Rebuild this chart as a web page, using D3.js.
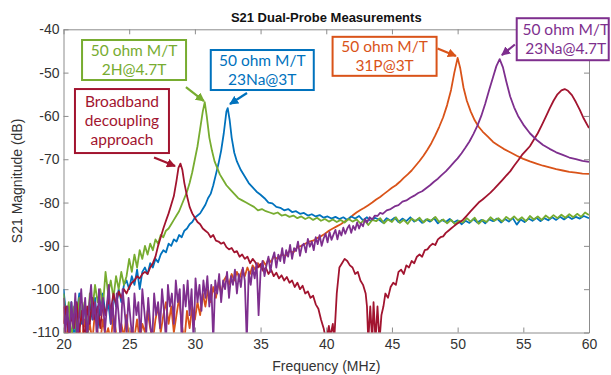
<!DOCTYPE html>
<html>
<head>
<meta charset="utf-8">
<script src="https://cdn.jsdelivr.net/npm/d3@7"></script>
<style>
  body { margin: 0; background: #fff; }
  svg { display: block; }
  .tick text { font-family: "Liberation Sans", Arial, sans-serif; font-size: 14px; fill: #333; }
</style>
</head>
<body>
<div id="chart"></div>
<script>
// S21 traces, [frequency MHz, magnitude dB]
const blueNa3T = [[20,-100],[20.2,-106],[20.4,-109],[20.6,-103],[20.8,-112],[21,-106],[21.2,-101],[21.4,-108],[21.6,-104],[21.8,-110],
  [22,-103],[22.2,-107],[22.4,-102],[22.6,-109],[22.8,-104],[23,-101],[23.2,-106],[23.4,-103],[23.6,-108],[23.8,-101],
  [24,-104],[24.2,-100],[24.4,-103],[24.6,-99],[24.8,-98],[25,-100],[25.2,-97],[25.4,-99],[25.6,-95.5],[25.8,-100],
  [26,-96],[26.2,-95],[26.4,-96.5],[26.6,-94],[26.8,-95],[27,-93],[27.2,-93.8],[27.4,-92],[27.6,-91],[27.8,-91.5],
  [28,-89.5],[28.2,-90],[28.4,-88.5],[28.6,-89],[28.8,-87.5],[29,-88],[29.2,-86.5],[29.4,-86],[29.6,-85],[29.8,-84.5],
  [30,-83.5],[30.2,-83],[30.4,-82.5],[30.6,-81.5],[30.8,-80.5],[31,-79],[31.2,-78],[31.4,-76],[31.6,-73.5],[31.8,-71],
  [32,-68],[32.2,-64],[32.4,-59],[32.5,-58.2],[32.65,-61],[32.8,-65],[33,-68.5],[33.2,-70.5],[33.5,-72.5],[33.8,-74],
  [34.1,-75.5],[34.4,-76.5],[34.7,-77.5],[35,-78.2],[35.3,-79],[35.6,-80],[35.9,-80.2],[36.2,-81],[36.5,-81.2],[36.8,-81.8],
  [37.1,-81.5],[37.4,-82.2],[37.7,-82],[38,-82.6],[38.3,-82.4],[38.6,-83],[38.9,-82.7],[39.2,-83.2],[39.5,-82.9],[39.8,-83.5],
  [40.1,-83.2],[40.4,-83.7],[40.7,-83.3],[41,-83.8],[41.3,-83.4],[41.6,-84],[41.9,-83.2],[42.2,-83.7],[42.5,-83.1],[42.8,-84.1],
  [43.1,-83.4],[43.4,-84.3],[43.7,-83.5],[44,-83.9],[44.3,-84.6],[44.6,-83.6],[44.9,-84.2],[45.2,-83.5],[45.5,-84.5],[45.8,-83.7],
  [46.1,-84.3],[46.4,-83.4],[46.7,-84.4],[47,-83.8],[47.3,-84.7],[47.6,-83.9],[47.9,-84.4],[48.2,-83.6],[48.5,-84.8],[48.8,-84],
  [49.1,-84.5],[49.4,-83.8],[49.7,-84.6],[50,-84.1],[50.3,-85],[50.6,-84.2],[50.9,-84.7],[51.2,-83.8],[51.5,-84.6],[51.8,-84],
  [52.1,-84.8],[52.4,-83.9],[52.7,-84.3],[53,-83.7],[53.3,-84.6],[53.6,-83.8],[53.9,-84.4],[54.2,-83.6],[54.5,-85.1],[54.8,-83.9],
  [55.1,-84.5],[55.4,-83.7],[55.7,-84.2],[56,-83.5],[56.3,-84.3],[56.6,-83.6],[56.9,-84.1],[57.2,-83.4],[57.5,-84],[57.8,-83.3],
  [58.1,-83.9],[58.4,-83.2],[58.7,-83.8],[59,-83.3],[59.3,-83.7],[59.6,-83.1],[60,-83.6]];

const green2H = [[20,-101],[20.2,-108],[20.4,-103],[20.6,-112],[20.8,-104],[21,-110],[21.2,-102],[21.4,-107],[21.6,-103],[21.8,-111],
  [22,-101],[22.2,-105],[22.4,-99],[22.6,-103],[22.8,-100],[23,-104],[23.2,-96],[23.4,-101],[23.6,-98],[23.8,-102],
  [24,-97],[24.2,-100],[24.4,-96],[24.6,-99],[24.8,-97],[25,-93],[25.2,-96],[25.4,-92],[25.6,-95],[25.8,-91],
  [26,-93],[26.2,-90],[26.4,-92],[26.6,-89.5],[26.8,-91],[27,-88.5],[27.2,-89.5],[27.4,-87.5],[27.6,-88],[27.8,-86.5],
  [28,-86],[28.2,-85],[28.4,-84],[28.6,-83],[28.8,-82],[29,-80.5],[29.2,-79],[29.4,-77.5],[29.6,-75.5],[29.8,-73],
  [30,-70],[30.2,-67],[30.4,-63],[30.6,-59],[30.75,-56.8],[30.9,-60],[31.1,-65],[31.3,-68],[31.5,-70.5],[31.7,-72],
  [31.9,-73.5],[32.1,-74.5],[32.4,-76],[32.7,-77],[33,-78],[33.3,-79],[33.6,-79.5],[33.9,-80],[34.2,-80.5],[34.5,-81],
  [34.8,-81.8],[35.1,-81.5],[35.4,-82],[35.7,-82.3],[36,-82.6],[36.3,-82.3],[36.6,-83],[36.9,-82.8],[37.2,-83.3],[37.5,-83],
  [37.8,-83.6],[38.1,-83.2],[38.4,-83.8],[38.7,-83.4],[39,-84],[39.3,-83.5],[39.6,-84.2],[39.9,-83.8],[40.2,-84.4],[40.5,-83.9],
  [40.8,-84.5],[41.1,-84],[41.4,-84.6],[41.7,-83.8],[42,-84.4],[42.3,-83.9],[42.6,-84.8],[42.9,-84],[43.2,-85.2],[43.5,-84],
  [43.8,-84.3],[44.1,-83.6],[44.4,-84.8],[44.7,-83.9],[45,-84.5],[45.3,-83.4],[45.6,-84.7],[45.9,-84],[46.2,-84.9],[46.5,-83.7],
  [46.8,-84.3],[47.1,-83.5],[47.4,-84.6],[47.7,-83.8],[48,-84.2],[48.3,-83.3],[48.6,-84.5],[48.9,-83.9],[49.2,-84.8],[49.5,-84],
  [49.8,-85],[50.1,-84.2],[50.4,-84.6],[50.7,-83.6],[51,-84.4],[51.3,-83.5],[51.6,-84.9],[51.9,-84],[52.2,-84.5],[52.5,-83.4],
  [52.8,-84.2],[53.1,-83.6],[53.4,-84.4],[53.7,-83.3],[54,-84],[54.3,-83.2],[54.6,-84.1],[54.9,-83.4],[55.2,-84.3],[55.5,-83.1],
  [55.8,-83.9],[56.1,-83.2],[56.4,-84],[56.7,-83],[57,-83.7],[57.3,-82.9],[57.6,-83.6],[57.9,-82.8],[58.2,-83.5],[58.5,-82.7],
  [58.8,-83.4],[59.1,-82.6],[59.4,-83.3],[59.7,-82.3],[60,-82.9]];

const orange31P = [[20,-104],[20.2,-112],[20.4,-108],[20.6,-112],[20.8,-106],[21,-111],[21.2,-109],[21.4,-112],[21.6,-107],[21.8,-111],
  [22,-108],[22.2,-112],[22.4,-105],[22.6,-110],[22.8,-112],[23,-107],[23.2,-111],[23.4,-109],[23.6,-112],[23.8,-106],
  [24,-110],[24.2,-112],[24.4,-108],[24.6,-111],[24.8,-106],[25,-112],[25.2,-109],[25.4,-111],[25.6,-107],[25.8,-112],
  [26,-108],[26.2,-110],[26.4,-105],[26.6,-109],[26.8,-112],[27,-107],[27.2,-104],[27.4,-110],[27.6,-106],[27.8,-103],
  [28,-108],[28.2,-104],[28.4,-110],[28.6,-106],[28.8,-102],[29,-108],[29.2,-112],[29.4,-105],[29.6,-109],[29.8,-104],
  [30,-107],[30.2,-103],[30.4,-106],[30.6,-101],[30.8,-104],[31,-100],[31.2,-103],[31.4,-99.5],[31.6,-102],[31.8,-98.5],
  [32,-101],[32.2,-98],[32.4,-97],[32.6,-99],[32.8,-96.5],[33,-98],[33.2,-96],[33.4,-97.5],[33.6,-95.5],[33.8,-97],
  [34,-95],[34.2,-96.5],[34.4,-94.5],[34.6,-95.5],[34.8,-94],[35,-95],[35.2,-93.5],[35.4,-94.5],[35.6,-93],[35.8,-93.8],
  [36,-92.5],[36.3,-93],[36.6,-92],[36.9,-92.3],[37.2,-91.2],[37.5,-91.5],[37.8,-90.3],[38.1,-90],[38.4,-89.5],[38.7,-89],
  [39,-88.8],[39.3,-88.2],[39.6,-87.8],[39.9,-87.2],[40.2,-86.5],[40.5,-86],[40.8,-85.5],[41.1,-85],[41.4,-84.4],[41.7,-83.8],
  [42,-83],[42.3,-82.3],[42.6,-81.7],[42.9,-81.2],[43.2,-80.6],[43.5,-80],[43.8,-79.3],[44.1,-78.7],[44.4,-78],[44.7,-77.3],
  [45,-76.6],[45.3,-76],[45.6,-75.2],[45.9,-74.3],[46.2,-73.5],[46.5,-72.6],[46.8,-71.5],[47.1,-70.4],[47.4,-69.2],[47.7,-67.8],
  [48,-66.3],[48.3,-64.5],[48.6,-62.5],[48.9,-60.3],[49.2,-57.5],[49.5,-54],[49.75,-50],[50,-46.6],[50.2,-49],[50.45,-53.5],
  [50.7,-56.5],[51,-59],[51.3,-61],[51.6,-62.5],[51.9,-63.6],[52.3,-64.8],[52.7,-66],[53.1,-66.8],[53.5,-67.6],[54,-68.4],
  [54.5,-69.2],[55,-69.9],[55.5,-70.5],[56,-71],[56.5,-71.5],[57,-71.9],[57.5,-72.3],[58,-72.6],[58.5,-72.9],[59,-73.1],
  [59.5,-73.3],[60,-73.4]];

const redBroadband = [[20,-108],[20.2,-104],[20.4,-111],[20.6,-106],[20.8,-109],[21,-103],[21.2,-110],[21.4,-105],[21.6,-112],[21.8,-104],
  [22,-108],[22.2,-102],[22.4,-107],[22.6,-104],[22.8,-109],[23,-103],[23.2,-106],[23.4,-102],[23.6,-105],[23.8,-101],
  [24,-103.5],[24.2,-100.5],[24.4,-102],[24.6,-100],[24.8,-101],[25,-99.5],[25.2,-98.5],[25.4,-98],[25.6,-97],[25.8,-97.5],
  [26,-96.5],[26.2,-96],[26.4,-96.5],[26.6,-95],[26.8,-94],[27,-92.5],[27.2,-90],[27.4,-88],[27.6,-86],[27.8,-84.2],
  [28,-82.5],[28.2,-80.5],[28.4,-78.5],[28.6,-75],[28.75,-72],[28.9,-71],[29.05,-72.5],[29.2,-75.5],[29.4,-78.5],[29.6,-81],
  [29.8,-82.5],[30,-83.5],[30.2,-84.5],[30.4,-85],[30.6,-86],[30.8,-86.5],[31,-87],[31.2,-88],[31.4,-87.5],[31.6,-88.8],
  [31.8,-89],[32,-89.5],[32.2,-89.2],[32.4,-90.3],[32.6,-90.8],[32.8,-90.5],[33,-91.5],[33.2,-91.2],[33.4,-92.5],[33.6,-92],
  [33.8,-93],[34,-92.5],[34.2,-94],[34.4,-93],[34.6,-93.8],[34.8,-95],[35,-94.2],[35.2,-95.8],[35.4,-95],[35.6,-96.5],
  [35.8,-95.5],[36,-97],[36.2,-96.2],[36.4,-97.5],[36.6,-96.8],[36.8,-98],[37,-97.2],[37.2,-98.5],[37.4,-98],[37.6,-99.5],
  [37.8,-98.5],[38,-100],[38.2,-99.2],[38.4,-101],[38.6,-100.5],[38.8,-102],[39,-101.5],[39.2,-103.5],[39.4,-104.5],[39.6,-107],
  [39.8,-109],[40,-112],[40.2,-108.5],[40.3,-111],[40.5,-108],[40.6,-112],[40.8,-101],[41,-95],[41.2,-94],[41.4,-93],
  [41.6,-93.5],[41.8,-94.5],[42,-95],[42.2,-96.5],[42.4,-96],[42.6,-98],[42.8,-99],[43,-101],[43.1,-104],[43.2,-112],
  [43.35,-104],[43.5,-112],[43.6,-103],[43.75,-112],[43.9,-104],[44.05,-112],[44.2,-106],[44.35,-104],[44.5,-101],[44.7,-102],
  [44.9,-99.5],[45.1,-98.5],[45.3,-99],[45.5,-96],[45.7,-95.5],[45.9,-96.5],[46.1,-94.5],[46.3,-95],[46.5,-93.5],[46.7,-94],
  [46.9,-92.5],[47.1,-92],[47.3,-92.5],[47.5,-91],[47.7,-90.8],[47.9,-90],[48.1,-89.5],[48.3,-89.8],[48.5,-88.5],[48.7,-88],
  [48.9,-87.8],[49.1,-87],[49.3,-86.5],[49.5,-86],[49.7,-85.5],[49.9,-85],[50.1,-84.6],[50.4,-84],[50.7,-83],[51,-82],
  [51.3,-81],[51.6,-80],[51.9,-79.3],[52.2,-78.5],[52.5,-77.7],[52.8,-76.8],[53.1,-75.8],[53.4,-74.8],[53.7,-73.8],[54,-72.8],
  [54.3,-71.5],[54.6,-70.3],[54.9,-69],[55.2,-68],[55.5,-67],[55.8,-65.5],[56.1,-64],[56.4,-62.2],[56.7,-60.3],[57,-58.3],
  [57.3,-56.5],[57.6,-55],[57.9,-54.1],[58.15,-53.8],[58.4,-54.2],[58.7,-55.2],[59,-56.8],[59.3,-58.6],[59.6,-60.6],[60,-62.8]];

const purpleNa47T = [[20,-102],[20.15,-110],[20.3,-104],[20.45,-112],[20.6,-103],[20.75,-109],[20.9,-101],[21.05,-112],[21.2,-106],[21.35,-100],
  [21.5,-108],[21.65,-102],[21.8,-112],[21.95,-104],[22.1,-99],[22.25,-107],[22.4,-103],[22.55,-112],[22.7,-100],[22.85,-106],
  [23,-102],[23.15,-110],[23.3,-104],[23.45,-99],[23.6,-108],[23.75,-103],[23.9,-112],[24.05,-101],[24.2,-106],[24.35,-112],
  [24.5,-100],[24.65,-105],[24.8,-110],[24.95,-102],[25.1,-107],[25.25,-112],[25.4,-101],[25.55,-106],[25.7,-103],[25.85,-112],
  [26,-100],[26.15,-105],[26.3,-110],[26.45,-102],[26.6,-108],[26.75,-112],[26.9,-101],[27.05,-106],[27.2,-103],[27.35,-109],
  [27.5,-100],[27.65,-105],[27.8,-112],[27.95,-99],[28.1,-104],[28.25,-101],[28.4,-108],[28.55,-98],[28.7,-103],[28.85,-100],
  [29,-112],[29.15,-99],[29.3,-104],[29.45,-98],[29.6,-106],[29.75,-100],[29.9,-112],[30.05,-97.5],[30.2,-103],[30.35,-99],
  [30.5,-105],[30.65,-98],[30.8,-102],[30.95,-97],[31.1,-104],[31.25,-99],[31.4,-112],[31.55,-98],[31.7,-101],[31.85,-96.5],
  [32,-103],[32.15,-98],[32.3,-100],[32.45,-96],[32.6,-102],[32.75,-97],[32.9,-99],[33.05,-95.5],[33.2,-101],[33.35,-96.5],
  [33.5,-99.5],[33.65,-95],[33.8,-98],[33.95,-112],[34.1,-96],[34.25,-99],[34.4,-95],[34.55,-97.5],[34.7,-94],[34.85,-106],
  [35,-96],[35.15,-93.5],[35.3,-97],[35.45,-94.5],[35.6,-92.5],[35.75,-96],[35.9,-93],[36.05,-91.5],[36.2,-95],[36.35,-92],
  [36.5,-93.5],[36.65,-90.5],[36.8,-94],[36.95,-91],[37.1,-92.5],[37.25,-89.8],[37.4,-93],[37.55,-90.5],[37.7,-91.2],[37.85,-89],
  [38,-92.3],[38.15,-90],[38.3,-89.5],[38.45,-91.5],[38.6,-88.4],[38.75,-90.2],[38.9,-89],[39.05,-91],[39.2,-88],[39.35,-89.6],
  [39.5,-87.5],[39.65,-90],[39.8,-88.3],[39.95,-87.2],[40.1,-89.2],[40.25,-86.8],[40.4,-88.6],[40.55,-87.4],[40.7,-86.3],[40.85,-88.5],
  [41,-86.5],[41.15,-87.6],[41.3,-85.8],[41.45,-87.2],[41.6,-86],[41.75,-85.2],[41.9,-87],[42.05,-85.4],[42.2,-86.3],[42.35,-84.6],
  [42.5,-86],[42.65,-84.8],[42.8,-85.5],[42.95,-83.8],[43.1,-84.6],[43.3,-83.4],[43.5,-83.9],[43.7,-83],[43.9,-83.1],[44.1,-82.4],
  [44.3,-82.6],[44.6,-81.8],[44.9,-81.5],[45.2,-80.9],[45.5,-80.6],
  [45.8,-79.8],[46.1,-79.5],[46.4,-78.9],[46.7,-78.4],[47,-77.8],[47.3,-77.4],[47.6,-76.7],[47.9,-76],[48.2,-75.2],[48.5,-74.5],
  [48.8,-73.6],[49.1,-72.8],[49.4,-71.8],[49.7,-70.8],[50,-69.8],[50.3,-68.6],[50.6,-67.3],[50.9,-65.9],[51.2,-64.2],[51.5,-62.3],
  [51.8,-60],[52.1,-57.2],[52.4,-54],[52.7,-51],[52.95,-48.5],[53.2,-46.9],[53.45,-48.8],[53.7,-52],[54,-55.5],[54.3,-58],
  [54.6,-60],[55,-62],[55.5,-64],[56,-65.5],[56.5,-66.7],[57,-67.6],[57.5,-68.4],[58,-69],[58.5,-69.6],[59,-70],
  [59.5,-70.4],[60,-70.6]];

const xTicks = [20, 25, 30, 35, 40, 45, 50, 55, 60];
const yTicks = [-110, -100, -90, -80, -70, -60, -50, -40];

const colors = { blue: "#0072BD", orange: "#D95319", purple: "#7E2F8E", green: "#77AC30", red: "#A2142F" };

// draw order: later ones on top
const series = [
  { key: "orange", data: orange31P },
  { key: "blue", data: blueNa3T },
  { key: "green", data: green2H },
  { key: "red", data: redBroadband },
  { key: "purple", data: purpleNa47T }
];

// callout boxes; centre and arrow ends given in data units
const notes = [
  { key: "green", lines: ["50 ohm M/T", "2H@4.7T"], cx: 25.37, cy: -47.09, w: 104, h: 40, from: [29.32, -53.33], to: [30.69, -56.56] },
  { key: "red", lines: ["Broadband", "decoupling", "approach"], cx: 24.45, cy: -61.18, w: 94, h: 64, from: [26.89, -69.6], to: [28.49, -71.57] },
  { key: "blue", lines: ["50 ohm M/T", "23Na@3T"], cx: 35.13, cy: -49.4, w: 103, h: 40, from: [33.97, -54.71], to: [32.67, -57.25] },
  { key: "orange", lines: ["50 ohm M/T", "31P@3T"], cx: 44.44, cy: -46.24, w: 104, h: 39, from: [48.47, -44.43], to: [49.87, -46.17] },
  { key: "purple", lines: ["50 ohm M/T", "23Na@4.7T"], cx: 58.0, cy: -42.29, w: 92, h: 42, dx: 3, from: [54.36, -43.51], to: [53.37, -45.94] }
];

const W = 611, H = 375;
const margin = { top: 29.3, right: 22, bottom: 42.5, left: 63.5 };
const iw = W - margin.left - margin.right;
const ih = H - margin.top - margin.bottom;

const svg = d3.select("#chart").append("svg")
  .attr("width", W)
  .attr("height", H);

const x = d3.scaleLinear().domain([20, 60]).range([margin.left, margin.left + iw]);
const y = d3.scaleLinear().domain([-110, -40]).range([margin.top + ih, margin.top]);

svg.append("clipPath").attr("id", "plotclip")
  .append("rect")
  .attr("x", margin.left).attr("y", margin.top)
  .attr("width", iw).attr("height", ih);

// axes, MATLAB style: ticks inward, box all round
const axisColor = "#8c8c8c";
const plain = d => String(d);   // ascii hyphen for negatives
function styleAxis(g, hideText) {
  g.select(".domain").attr("stroke", axisColor);
  g.selectAll(".tick line").attr("stroke", axisColor);
  if (hideText) g.selectAll(".tick text").remove();
}

svg.append("g")
  .attr("transform", `translate(0,${margin.top + ih})`)
  .call(d3.axisBottom(x).tickValues(xTicks).tickFormat(plain).tickSizeInner(-5).tickSizeOuter(0).tickPadding(7))
  .call(g => styleAxis(g, false));

svg.append("g")
  .attr("transform", `translate(0,${margin.top})`)
  .call(d3.axisTop(x).tickValues(xTicks).tickSizeInner(-5).tickSizeOuter(0))
  .call(g => styleAxis(g, true));

svg.append("g")
  .attr("transform", `translate(${margin.left},0)`)
  .call(d3.axisLeft(y).tickValues(yTicks).tickFormat(plain).tickSizeInner(-5).tickSizeOuter(0).tickPadding(4))
  .call(g => styleAxis(g, false));

svg.append("g")
  .attr("transform", `translate(${margin.left + iw},0)`)
  .call(d3.axisRight(y).tickValues(yTicks).tickSizeInner(-5).tickSizeOuter(0))
  .call(g => styleAxis(g, true));

// traces
const line = d3.line().x(d => x(d[0])).y(d => y(d[1]));

svg.append("g")
  .attr("clip-path", "url(#plotclip)")
  .selectAll("path")
  .data(series)
  .join("path")
    .attr("d", d => line(d.data))
    .attr("fill", "none")
    .attr("stroke", d => colors[d.key])
    .attr("stroke-width", 1.8)
    .attr("stroke-linejoin", "round");

// titles
svg.append("text")
  .attr("x", margin.left + iw / 2).attr("y", 22)
  .attr("text-anchor", "middle")
  .style("font-family", "Liberation Sans, Arial, sans-serif")
  .style("font-size", "13px").style("font-weight", "bold").style("fill", "#111")
  .text("S21 Dual-Probe Measurements");

svg.append("text")
  .attr("x", margin.left + iw / 2).attr("y", 371)
  .attr("text-anchor", "middle")
  .style("font-family", "Liberation Sans, Arial, sans-serif")
  .style("font-size", "14px").style("fill", "#333")
  .text("Frequency (MHz)");

svg.append("text")
  .attr("transform", `translate(22,${margin.top + ih / 2}) rotate(-90)`)
  .attr("text-anchor", "middle")
  .style("font-family", "Liberation Sans, Arial, sans-serif")
  .style("font-size", "14px").style("fill", "#333")
  .text("S21 Magnitude (dB)");

// arrowheads, one per colour
const defs = svg.append("defs");
Object.entries(colors).forEach(([k, c]) => {
  defs.append("marker")
    .attr("id", "arrow-" + k)
    .attr("viewBox", "0 0 10 10")
    .attr("refX", 9).attr("refY", 5)
    .attr("markerUnits", "userSpaceOnUse")
    .attr("markerWidth", 9).attr("markerHeight", 9)
    .attr("orient", "auto")
    .append("path")
      .attr("d", "M0,0 L10,5 L0,10 Z")
      .attr("fill", c);
});

const ng = svg.append("g").selectAll("g").data(notes).join("g");

ng.append("rect")
  .attr("x", d => x(d.cx) - d.w / 2)
  .attr("y", d => y(d.cy) - d.h / 2)
  .attr("width", d => d.w)
  .attr("height", d => d.h)
  .attr("fill", "#fff")
  .attr("stroke", d => colors[d.key])
  .attr("stroke-width", 2);

ng.each(function(d) {
  const t = d3.select(this).append("text")
    .attr("text-anchor", "middle")
    .style("font-family", "Lato, 'Open Sans', sans-serif")
    .style("font-size", "15.5px")
    .style("fill", colors[d.key]);
  const lh = 19;
  const top = y(d.cy) - (d.lines.length - 1) * lh / 2;
  d.lines.forEach((s, i) => {
    t.append("tspan")
      .attr("x", x(d.cx) + (d.dx || 0))
      .attr("y", top + i * lh)
      .attr("dy", "0.35em")
      .text(s);
  });
});

ng.append("line")
  .attr("x1", d => x(d.from[0])).attr("y1", d => y(d.from[1]))
  .attr("x2", d => x(d.to[0])).attr("y2", d => y(d.to[1]))
  .attr("stroke", d => colors[d.key])
  .attr("stroke-width", 2.2)
  .attr("marker-end", d => `url(#arrow-${d.key})`);
</script>
</body>
</html>
